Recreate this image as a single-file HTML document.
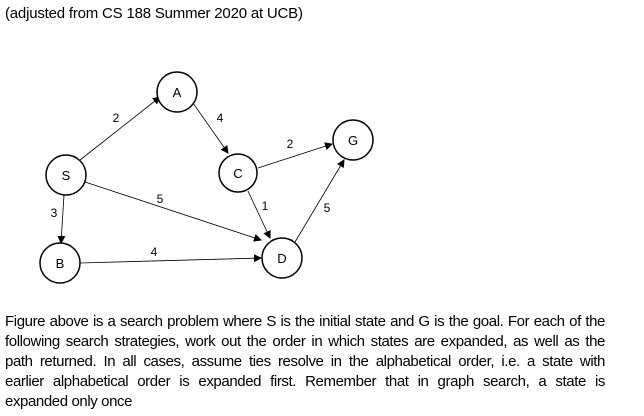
<!DOCTYPE html>
<html><head><style>
body{margin:0;width:644px;height:416px;background:#fff;overflow:hidden;position:relative;font-family:"Liberation Sans",sans-serif;color:#000}
.t{position:absolute;left:5px;top:5px;font-size:15px;letter-spacing:-0.2px}
.p{position:absolute;left:5px;width:600px;font-size:15px;letter-spacing:-0.4px;line-height:20px}
.j{text-align:justify;text-align-last:justify;white-space:nowrap;}
.l{height:20px}
</style></head><body>
<div class="t">(adjusted from CS 188 Summer 2020 at UCB)</div>
<svg width="644" height="300" style="position:absolute;left:0;top:0" font-family="Liberation Sans,sans-serif" font-size="11">
<defs><marker id="a" markerWidth="8" markerHeight="8" refX="7" refY="4" orient="auto" markerUnits="userSpaceOnUse"><path d="M0,0 L8,4 L0,8 z" fill="#000"/></marker></defs>
<g stroke="#000" stroke-width="0.8" fill="none">
<line x1="80" y1="160" x2="160" y2="97" marker-end="url(#a)"/>
<line x1="193" y1="103" x2="228" y2="153" marker-end="url(#a)"/>
<line x1="258" y1="168" x2="332" y2="144" marker-end="url(#a)"/>
<line x1="248" y1="191" x2="270" y2="238" marker-end="url(#a)"/>
<line x1="85" y1="182" x2="261" y2="240" marker-end="url(#a)"/>
<line x1="64" y1="195" x2="61" y2="243" marker-end="url(#a)"/>
<line x1="80" y1="263" x2="261" y2="258" marker-end="url(#a)"/>
<line x1="295" y1="242" x2="344" y2="160" marker-end="url(#a)"/>
</g>
<g stroke="#000" stroke-width="1.5" fill="#fff">
<circle cx="177" cy="92" r="20"/><circle cx="66" cy="175" r="20"/><circle cx="60" cy="263" r="20"/>
<circle cx="238" cy="173" r="19"/><circle cx="282" cy="258" r="20"/><circle cx="353" cy="140" r="20"/>
</g>
<g text-anchor="middle" font-size="13">
<text x="177" y="97">A</text><text x="66" y="180">S</text><text x="60" y="268">B</text>
<text x="238" y="178">C</text><text x="282" y="263">D</text><text x="353" y="145">G</text>
</g>
<g text-anchor="middle" font-size="12">
<text x="116" y="122">2</text><text x="220" y="122">4</text><text x="290" y="148">2</text>
<text x="265" y="210">1</text><text x="160" y="203">5</text><text x="327" y="212">5</text>
<text x="54" y="217">3</text><text x="154" y="256">4</text>
</g>
</svg>
<div class="p" style="top:312px">
<div class="l j">Figure above is a search problem where S is the initial state and G is the goal. For each of the</div>
<div class="l j">following search strategies, work out the order in which states are expanded, as well as the</div>
<div class="l j">path returned. In all cases, assume ties resolve in the alphabetical order, i.e. a state with</div>
<div class="l j">earlier alphabetical order is expanded first. Remember that in graph search, a state is</div>
<div class="l">expanded only once</div>
</div>
</body></html>
